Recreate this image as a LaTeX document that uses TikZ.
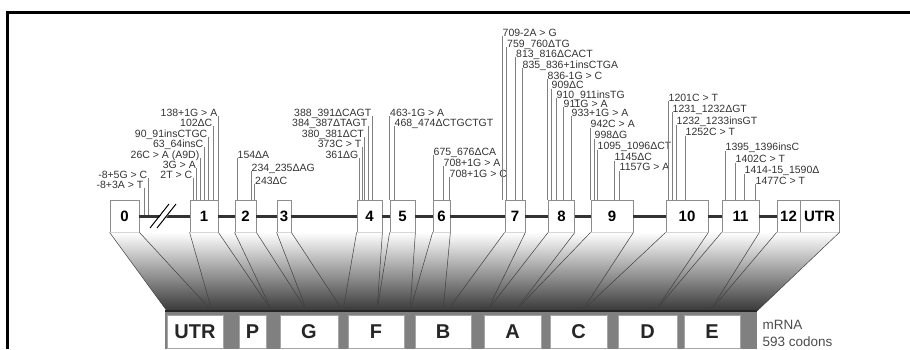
\documentclass[tikz,border=0pt]{standalone}
\usepackage{fontspec}
\setmainfont{Liberation Sans}
\begin{document}
\begin{tikzpicture}[x=1pt, y=-1pt,
	exon/.style={draw=black!45, fill=white, line width=0.8pt, minimum height=32, inner sep=0pt, font=\fontsize{15}{15}\selectfont\bfseries},
	dom/.style={draw=black!35, fill=white, line width=0.6pt, minimum height=33, inner sep=0pt, text=black!85, font=\fontsize{20}{20}\selectfont\bfseries},
	lab/.style={inner sep=0.5pt, text=black!80, font=\fontsize{10.5}{10.5}\selectfont},
	rlab/.style={lab, anchor=base east},
	llab/.style={lab, anchor=base west},
	lead/.style={draw=black!50, line width=0.6pt},
	map/.style={draw=black!75, line width=0.5pt},
	bone/.style={draw=black!80, line width=3pt}]
	\useasboundingbox (0,0) rectangle (910,349);
	\draw[line width=3pt] (7.5,349) -- (7.5,12.5) -- (910,12.5);

	% gene: exons on the backbone
	\node[exon, minimum width=29] (e0) at (124.5,216) {0};
	\node[exon, minimum width=28] (e1) at (204,216) {1};
	\node[exon, minimum width=21] (e2) at (245.5,216) {2};
	\node[exon, minimum width=14] (e3) at (284,216) {3};
	\node[exon, minimum width=25] (e4) at (369.5,216) {4};
	\node[exon, minimum width=25] (e5) at (402.5,216) {5};
	\node[exon, minimum width=17] (e6) at (441.5,216) {6};
	\node[exon, minimum width=20] (e7) at (515,216) {7};
	\node[exon, minimum width=26] (e8) at (561.5,216) {8};
	\node[exon, minimum width=42] (e9) at (612,216) {9};
	\node[exon, minimum width=42] (e10) at (687,216) {10};
	\node[exon, minimum width=37] (e11) at (740.5,216) {11};
	\node[exon, minimum width=23] (e12) at (788.5,216) {12};
	\node[exon, minimum width=39] (eu) at (819.5,216) {UTR};
	\foreach \a/\b in {e0/e1, e1/e2, e2/e3, e3/e4, e4/e5, e5/e6, e6/e7, e7/e8, e8/e9, e9/e10, e10/e11, e11/e12}
		\draw[bone] (\a.east) -- (\b.west);
	\fill[white] (151,228) -- (170,204) -- (177,204) -- (158,228) -- cycle;
	\draw[line width=1pt] (150,228) -- (169,204) (157,228) -- (176,204);
	\coordinate (bb) at (0,214.5);

	% bar-top points of the exon boundaries
	\coordinate (q0) at (167,311);
	\coordinate (q1) at (212,311);
	\coordinate (q2) at (272,311);
	\coordinate (q3) at (307,311);
	\coordinate (q4) at (343,311);
	\coordinate (q5) at (377,311);
	\coordinate (q6) at (410,311);
	\coordinate (q7) at (443,311);
	\coordinate (q8) at (447,311);
	\coordinate (q9) at (487,311);
	\coordinate (q10) at (515,311);
	\coordinate (q11) at (582,311);
	\coordinate (q12) at (655,311);
	\coordinate (q13) at (710,311);
	\coordinate (q14) at (757,311);
	\shade[top color=white, middle color=black!12, bottom color=black!78] (e0.south west) -- (eu.south east) -- (q14) -- (q0) -- cycle;
	\draw[map] (e0.south west) -- (q0) (e0.south east) -- (q1) (e1.south west) -- (q1) (e1.south east) -- (q2)
		(e2.south west) -- (q2) (e2.south east) -- (q3) (e3.south west) -- (q3) (e3.south east) -- (q4)
		(e4.south west) -- (q4) (e4.south east) -- (q5) (e5.south west) -- (q5) (e5.south east) -- (q6)
		(e6.south west) -- (q6) (e6.south east) -- (q7) (e7.south west) -- (q8) (e7.south east) -- (q9)
		(e8.south west) -- (q9) (e8.south east) -- (q10) (e9.south west) -- (q10) (e9.south east) -- (q11)
		(e10.south west) -- (q11) (e10.south east) -- (q12) (e11.south west) -- (q12) (e11.south east) -- (q13)
		(e12.south west) -- (q13) (eu.south east) -- (q14);

	% mRNA bar
	\fill[black!50] (165,312) rectangle (757,349);
	\draw[black!85, line width=2pt] (q0 -| 165,0) -- (q14);
	\node[dom, minimum width=56] (dutr) at (195,331.5) {UTR};
	\node[dom, minimum width=27] (dp) at (252.5,331.5) {P};
	\node[dom, minimum width=58] (dg) at (309,331.5) {G};
	\node[dom, minimum width=56] (df) at (376,331.5) {F};
	\node[dom, minimum width=56] (db) at (443,331.5) {B};
	\node[dom, minimum width=57] (da) at (512.5,331.5) {A};
	\node[dom, minimum width=57] (dc) at (578.5,331.5) {C};
	\node[dom, minimum width=59] (dd) at (647.5,331.5) {D};
	\node[dom, minimum width=56] (de) at (712,331.5) {E};
	\node[anchor=west, align=left, text=black!70, font=\fontsize{13.5}{17}\selectfont] (mrna) at (759,333.5) {mRNA\\593 codons};

	% mutations
	\node[rlab] (m0a) at (148,178) {-8+5G > C};
	\node[rlab] (m0b) at (144,188) {-8+3A > T};
	\draw[lead] (m0a.base east) -- (m0a.base east |- bb) (m0b.base east) -- (m0b.base east |- bb);

	\node[rlab] (m1a) at (218,116) {138+1G > A};
	\node[rlab] (m1b) at (213,126) {102ΔC};
	\node[rlab] (m1c) at (208,137) {90\_91insCTGC};
	\node[rlab] (m1d) at (204,147) {63\_64insC};
	\node[rlab] (m1e) at (200,158) {26C > A (A9D)};
	\node[rlab] (m1f) at (196.5,168) {3G > A};
	\node[rlab] (m1g) at (193,178) {2T > C};
	\foreach \m in {m1a, m1b, m1c, m1d, m1e, m1f, m1g}
		\draw[lead] (\m.base east) -- (\m.base east |- e1.north);

	\node[llab] (m2a) at (237,158) {154ΔA};
	\node[llab] (m2b) at (251,171) {234\_235ΔAG};
	\node[llab] (m2c) at (254.5,184) {243ΔC};
	\foreach \m in {m2a, m2b, m2c}
		\draw[lead] (\m.base west) -- (\m.base west |- e2.north);

	\node[rlab] (m4a) at (372,116) {388\_391ΔCAGT};
	\node[rlab] (m4b) at (368,126) {384\_387ΔTAGT};
	\node[rlab] (m4c) at (364.5,137) {380\_381ΔCT};
	\node[rlab] (m4d) at (362,147) {373C > T};
	\node[rlab] (m4e) at (359,158) {361ΔG};
	\foreach \m in {m4a, m4b, m4c, m4d, m4e}
		\draw[lead] (\m.base east) -- (\m.base east |- e4.north);

	\node[llab] (m5a) at (389.5,116) {463-1G > A};
	\node[llab] (m5b) at (394,126) {468\_474ΔCTGCTGT};
	\foreach \m in {m5a, m5b}
		\draw[lead] (\m.base west) -- (\m.base west |- e5.north);

	\node[llab] (m6a) at (433,155) {675\_676ΔCA};
	\node[llab] (m6b) at (443,166) {708+1G > A};
	\node[llab] (m6c) at (449,177) {708+1G > C};
	\foreach \m in {m6a, m6b, m6c}
		\draw[lead] (\m.base west) -- (\m.base west |- e6.north);

	\node[llab] (m7a) at (502,36) {709-2A > G};
	\node[llab] (m7b) at (506.5,47) {759\_760ΔTG};
	\node[llab] (m7c) at (515.5,57) {813\_816ΔCACT};
	\node[llab] (m7d) at (522,68) {835\_836+1insCTGA};
	\foreach \m in {m7a, m7b, m7c, m7d}
		\draw[lead] (\m.base west) -- (\m.base west |- e7.north);

	\node[llab] (m8a) at (547,79) {836-1G > C};
	\node[llab] (m8b) at (551,88.5) {909ΔC};
	\node[llab] (m8c) at (556,98) {910\_911insTG};
	\node[llab] (m8d) at (563,107) {911G > A};
	\node[llab] (m8e) at (571,116) {933+1G > A};
	\foreach \m in {m8a, m8b, m8c, m8d, m8e}
		\draw[lead] (\m.base west) -- (\m.base west |- e8.north);

	\node[llab] (m9a) at (590,127.5) {942C > A};
	\node[llab] (m9b) at (594,138.5) {998ΔG};
	\node[llab] (m9c) at (597,149.5) {1095\_1096ΔCT};
	\node[llab] (m9d) at (614,160.5) {1145ΔC};
	\node[llab] (m9e) at (619,170.5) {1157G > A};
	\foreach \m in {m9a, m9b, m9c, m9d, m9e}
		\draw[lead] (\m.base west) -- (\m.base west |- e9.north);

	\node[llab] (m10a) at (668,101) {1201C > T};
	\node[llab] (m10b) at (672,112) {1231\_1232ΔGT};
	\node[llab] (m10c) at (676,124.5) {1232\_1233insGT};
	\node[llab] (m10d) at (685,135.5) {1252C > T};
	\foreach \m in {m10a, m10b, m10c, m10d}
		\draw[lead] (\m.base west) -- (\m.base west |- e10.north);

	\node[llab] (m11a) at (725,150.5) {1395\_1396insC};
	\node[llab] (m11b) at (735,162.5) {1402C > T};
	\node[llab] (m11c) at (744,173.5) {1414-15\_1590Δ};
	\node[llab] (m11d) at (755,184) {1477C > T};
	\foreach \m in {m11a, m11b, m11c, m11d}
		\draw[lead] (\m.base west) -- (\m.base west |- e11.north);
\end{tikzpicture}
\end{document}
